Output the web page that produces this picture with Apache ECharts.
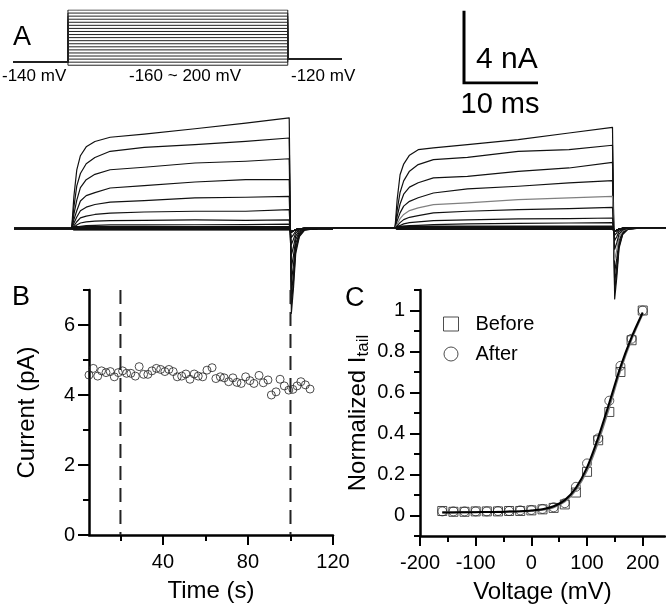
<!DOCTYPE html>
<html>
<head>
<meta charset="utf-8">
<script src="https://cdn.jsdelivr.net/npm/echarts@6/dist/echarts.min.js"></script>
<style>
  html, body { margin: 0; padding: 0; background: #fff; }
  #main { width: 666px; height: 607px; }
</style>
</head>
<body>
<div id="main"></div>
<script>
// ---- panel A: voltage protocol ----
var protoVolts = [-160, -140, -120, -100, -80, -60, -40, -20, 0, 20, 40, 60, 80, 100, 120, 140, 160, 180, 200];
var holdVolt = -140;
var tailVolt = -120;

// ---- panel A: current traces (nA vs ms) ----
var stepTimes = [0.3, 0.7, 1.2, 2, 3.2, 5.3, 10, 17, 24, 30];
var tailTimes = [30.3, 30.6, 30.9, 31.4, 32.1, 34];

var leftStep = [
  [1.8, 3.3, 4.1, 4.6, 4.9, 5.14, 5.32, 5.62, 5.94, 6.23],
  [1.2, 2.4, 3.1, 3.65, 4.0, 4.35, 4.57, 4.72, 4.91, 5.10],
  [0.8, 1.6, 2.3, 2.75, 3.05, 3.31, 3.45, 3.69, 3.79, 3.93],
  [0.5, 1.0, 1.55, 1.85, 2.02, 2.28, 2.41, 2.62, 2.75, 2.75],
  [0.3, 0.65, 1.0, 1.2, 1.35, 1.49, 1.57, 1.72, 1.76, 1.81],
  [0.15, 0.38, 0.6, 0.7, 0.79, 0.87, 0.93, 0.97, 0.97, 1.06],
  [0.07, 0.2, 0.31, 0.37, 0.41, 0.44, 0.46, 0.48, 0.46, 0.48],
  [0.03, 0.08, 0.12, 0.16, 0.18, 0.20, 0.20, 0.21, 0.22, 0.25]
];
var leftTail = [
  [-4.78, -3.3, -1.4, -0.46, -0.1, 0],
  [-4.3, -2.9, -1.2, -0.4, -0.08, 0],
  [-3.7, -2.5, -1.05, -0.35, -0.07, 0],
  [-3.0, -2.0, -0.85, -0.28, -0.06, 0],
  [-2.2, -1.5, -0.62, -0.2, -0.04, 0],
  [-1.5, -1.0, -0.42, -0.14, -0.03, 0],
  [-0.9, -0.6, -0.25, -0.08, -0.02, 0],
  [-0.5, -0.34, -0.14, -0.05, -0.01, 0]
];
var rightStep = [
  [1.6, 3.0, 3.6, 4.1, 4.41, 4.51, 4.69, 4.98, 5.35, 5.67],
  [1.0, 2.0, 2.65, 3.2, 3.57, 3.85, 3.98, 4.32, 4.41, 4.66],
  [0.65, 1.35, 1.9, 2.3, 2.55, 2.82, 2.91, 3.19, 3.38, 3.70],
  [0.4, 0.85, 1.23, 1.5, 1.7, 1.97, 2.20, 2.35, 2.54, 2.67],
  [0.22, 0.52, 0.76, 0.98, 1.13, 1.31, 1.41, 1.60, 1.69, 1.78],
  [0.12, 0.3, 0.47, 0.6, 0.69, 0.85, 0.94, 1.03, 1.09, 1.16],
  [0.05, 0.14, 0.23, 0.3, 0.34, 0.41, 0.45, 0.51, 0.53, 0.56],
  [0.02, 0.05, 0.09, 0.13, 0.15, 0.19, 0.23, 0.26, 0.28, 0.30]
];
var rightTail = [
  [-4.0, -2.75, -1.15, -0.38, -0.08, 0],
  [-3.6, -2.45, -1.03, -0.34, -0.07, 0],
  [-3.1, -2.1, -0.9, -0.3, -0.06, 0],
  [-2.5, -1.7, -0.72, -0.24, -0.05, 0],
  [-1.8, -1.22, -0.52, -0.17, -0.03, 0],
  [-1.2, -0.82, -0.35, -0.11, -0.02, 0],
  [-0.7, -0.48, -0.2, -0.07, -0.01, 0],
  [-0.4, -0.27, -0.11, -0.04, -0.01, 0]
];
var rightGrayTrace = 4; // the grey sweep on the right
// sweeps from -160 to 40 mV sit on the baseline
var smallLevels = [0.1, 0.07, 0.05, 0.03, 0.02, 0, -0.02, -0.04, -0.05, -0.06, -0.08];
var smallTail = [-0.2, -0.13, -0.06, -0.02, 0, 0];

// ---- panel B ----
var bTime = [5.2, 7.2, 9.3, 11.1, 13.2, 15.2, 17.1, 19.0, 21.0, 22.9, 24.9, 27.0, 28.8, 30.9, 32.9, 34.8, 36.9, 38.9, 40.9, 42.8,
  44.8, 46.7, 48.8, 50.8, 52.7, 54.7, 56.6, 58.7, 60.7, 63.1, 64.9, 67.0, 68.8, 70.9, 72.9, 74.8, 76.8, 78.9, 80.9, 82.8,
  85.2, 87.2, 89.4, 91.0, 93.2, 95.1, 97.1, 99.2, 101.1, 103.1, 104.9, 107.0, 109.2];
var bCurrent = [4.57, 4.76, 4.54, 4.69, 4.64, 4.67, 4.52, 4.64, 4.69, 4.62, 4.62, 4.54, 4.81, 4.59, 4.59, 4.69, 4.76, 4.73, 4.67, 4.73,
  4.67, 4.52, 4.54, 4.60, 4.45, 4.60, 4.54, 4.52, 4.71, 4.78, 4.47, 4.52, 4.49, 4.38, 4.49, 4.36, 4.33, 4.52, 4.41, 4.33,
  4.56, 4.35, 4.43, 4.00, 4.09, 4.45, 4.26, 4.14, 4.16, 4.26, 4.38, 4.29, 4.17];
var bMarkers = [20, 100];

// ---- panel C ----
var cVolt = [-160, -140, -120, -100, -80, -60, -40, -20, 0, 20, 40, 60, 80, 100, 120, 140, 160, 180, 200];
var cBefore = [0.022, 0.018, 0.018, 0.02, 0.02, 0.02, 0.022, 0.022, 0.025, 0.03, 0.037, 0.054, 0.112, 0.213, 0.367, 0.505, 0.70, 0.855, 1.0];
var cAfter = [0.02, 0.02, 0.02, 0.02, 0.02, 0.022, 0.022, 0.025, 0.027, 0.032, 0.04, 0.06, 0.14, 0.254, 0.376, 0.56, 0.73, 0.862, 1.0];
var fitBefore = [0.016, 0.016, 0.016, 0.017, 0.017, 0.018, 0.019, 0.021, 0.023, 0.028, 0.04, 0.068, 0.125, 0.22, 0.36, 0.53, 0.71, 0.86, 0.985];
var fitAfter = [0.015, 0.015, 0.016, 0.016, 0.017, 0.017, 0.019, 0.021, 0.024, 0.03, 0.045, 0.075, 0.135, 0.235, 0.38, 0.55, 0.725, 0.87, 0.99];

var FONT = "'Liberation Sans', Arial, sans-serif";

function pairs(xs, ys) {
  return xs.map(function (x, i) { return [x, ys[i]]; });
}

function traceData(step, tail, tMin, tMax) {
  return [[tMin, 0], [0, 0]].concat(pairs(stepTimes, step), pairs(tailTimes, tail), [[tMax, 0]]);
}

function flatStep(level) {
  return stepTimes.map(function () { return level; });
}

function traceSeries(grid, steps, tails, tMin, tMax, grayIdx) {
  var out = [];
  smallLevels.forEach(function (lv) {
    out.push({
      type: 'line', xAxisIndex: grid, yAxisIndex: grid, symbol: 'none', silent: true,
      data: traceData(flatStep(lv), smallTail, tMin, tMax),
      lineStyle: { color: '#111', width: 1.3 }
    });
  });
  steps.forEach(function (s, i) {
    out.push({
      type: 'line', xAxisIndex: grid, yAxisIndex: grid, symbol: 'none', silent: true,
      data: traceData(s, tails[i], tMin, tMax),
      lineStyle: { color: i === grayIdx ? '#808080' : '#111', width: 1.2, join: 'round' }
    });
  });
  return out;
}

var protoSeries = protoVolts.map(function (v) {
  return {
    type: 'line', xAxisIndex: 0, yAxisIndex: 0, symbol: 'none', silent: true,
    data: [[-7.5, holdVolt], [0, holdVolt], [0, v], [30, v], [30, tailVolt], [37.4, tailVolt]],
    lineStyle: { color: '#222', width: 1 }
  };
});

function hiddenAxis(grid, min, max) {
  return { type: 'value', gridIndex: grid, min: min, max: max, show: false };
}

var axisLine = { show: true, onZero: false, lineStyle: { color: '#000', width: 2.5 } };

var chart = echarts.init(document.getElementById('main'));
chart.setOption({
  animation: false,
  backgroundColor: '#fff',
  grid: [
    { left: 13, top: 10, width: 329, height: 56 },     // protocol
    { left: 14, top: 100, width: 319, height: 230 },   // left traces
    { left: 333, top: 100, width: 333, height: 230 },  // right traces
    { left: 464, top: 12, width: 72.5, height: 71 },   // scale bar
    { left: 89, top: 290, width: 244, height: 245 },   // B
    { left: 420, top: 290, width: 245, height: 246 }   // C
  ],
  xAxis: [
    hiddenAxis(0, -7.5, 37.4),
    hiddenAxis(1, -7.96, 36.04),
    hiddenAxis(2, -8.55, 37.38),
    hiddenAxis(3, 0, 10),
    {
      type: 'value', gridIndex: 4, min: 5.2, max: 120, position: 'bottom',
      name: 'Time (s)', nameLocation: 'middle', nameGap: 44,
      nameTextStyle: { color: '#000', fontSize: 24, fontFamily: FONT },
      axisLine: axisLine,
      axisTick: { show: true, length: 10, lineStyle: { color: '#000', width: 2 }, customValues: [40, 80, 120] },
      axisLabel: { show: true, margin: 17, customValues: [40, 80, 120], color: '#000', fontSize: 20, fontFamily: FONT },
      splitLine: { show: false }
    },
    {
      type: 'value', gridIndex: 4, min: 5.2, max: 120, position: 'bottom',
      axisLine: { show: false, onZero: false },
      axisTick: { show: true, length: 6, lineStyle: { color: '#000', width: 2 }, customValues: [20, 60, 100] },
      axisLabel: { show: false }, splitLine: { show: false }
    },
    {
      type: 'value', gridIndex: 5, min: -200, max: 240, position: 'bottom',
      name: 'Voltage (mV)', nameLocation: 'middle', nameGap: 44,
      nameTextStyle: { color: '#000', fontSize: 24, fontFamily: FONT },
      axisLine: axisLine,
      axisTick: { show: true, length: 10, lineStyle: { color: '#000', width: 2 }, customValues: [-200, -100, 0, 100, 200] },
      axisLabel: { show: true, margin: 17, customValues: [-200, -100, 0, 100, 200], color: '#000', fontSize: 20, fontFamily: FONT },
      splitLine: { show: false }
    },
    {
      type: 'value', gridIndex: 5, min: -200, max: 240, position: 'bottom',
      axisLine: { show: false, onZero: false },
      axisTick: { show: true, length: 6, lineStyle: { color: '#000', width: 2 }, customValues: [-150, -50, 50, 150] },
      axisLabel: { show: false }, splitLine: { show: false }
    }
  ],
  yAxis: [
    hiddenAxis(0, -165, 200),
    hiddenAxis(1, -5.72, 7.24),
    hiddenAxis(2, -5.75, 7.21),
    hiddenAxis(3, 0, 4),
    {
      type: 'value', gridIndex: 4, min: 0, max: 7, position: 'left',
      name: 'Current (pA)', nameLocation: 'middle', nameGap: 50,
      nameTextStyle: { color: '#000', fontSize: 24, fontFamily: FONT },
      axisLine: axisLine,
      axisTick: { show: true, length: 11, lineStyle: { color: '#000', width: 2 }, customValues: [0, 2, 4, 6] },
      axisLabel: { show: true, margin: 14, customValues: [0, 2, 4, 6], color: '#000', fontSize: 20, fontFamily: FONT },
      splitLine: { show: false }
    },
    {
      type: 'value', gridIndex: 4, min: 0, max: 7, position: 'left',
      axisLine: { show: false, onZero: false },
      axisTick: { show: true, length: 6, lineStyle: { color: '#000', width: 2 }, customValues: [1, 3, 5, 7] },
      axisLabel: { show: false }, splitLine: { show: false }
    },
    {
      type: 'value', gridIndex: 5, min: -0.1, max: 1.1, position: 'left',
      name: '{a|Normalized I}{s|tail}', nameLocation: 'middle', nameGap: 48,
      nameTextStyle: {
        color: '#000', fontFamily: FONT,
        rich: {
          a: { fontSize: 24, fontFamily: FONT, color: '#000' },
          s: { fontSize: 17, fontFamily: FONT, color: '#000', padding: [10, 0, 0, 0] }
        }
      },
      axisLine: axisLine,
      axisTick: { show: true, length: 10, lineStyle: { color: '#000', width: 2 }, customValues: [0, 0.2, 0.4, 0.6, 0.8, 1] },
      axisLabel: { show: true, margin: 15, customValues: [0, 0.2, 0.4, 0.6, 0.8, 1], color: '#000', fontSize: 20, fontFamily: FONT },
      splitLine: { show: false }
    },
    {
      type: 'value', gridIndex: 5, min: -0.1, max: 1.1, position: 'left',
      axisLine: { show: false, onZero: false },
      axisTick: { show: true, length: 6, lineStyle: { color: '#000', width: 2 }, customValues: [-0.1, 0.1, 0.3, 0.5, 0.7, 0.9, 1.1] },
      axisLabel: { show: false }, splitLine: { show: false }
    }
  ],
  legend: {
    orient: 'vertical', left: 438, top: 309,
    itemWidth: 15, itemHeight: 14, itemGap: 10,
    selectedMode: false,
    textStyle: { color: '#000', fontSize: 20, fontFamily: FONT, padding: [0, 0, 0, 12] },
    data: [
      { name: 'Before', icon: 'rect', itemStyle: { color: '#fff', borderColor: '#222', borderWidth: 1 } },
      { name: 'After', icon: 'circle', itemStyle: { color: '#fff', borderColor: '#222', borderWidth: 1 } }
    ]
  },
  graphic: [
    { type: 'text', x: 13, y: 38, style: { text: 'A', fontSize: 27, fontFamily: FONT, fill: '#000', textVerticalAlign: 'middle', verticalAlign: 'middle' } },
    { type: 'text', x: 12, y: 298, style: { text: 'B', fontSize: 27, fontFamily: FONT, fill: '#000', textVerticalAlign: 'middle', verticalAlign: 'middle' } },
    { type: 'text', x: 345, y: 299, style: { text: 'C', fontSize: 27, fontFamily: FONT, fill: '#000', textVerticalAlign: 'middle', verticalAlign: 'middle' } },
    { type: 'text', x: 2, y: 76, style: { text: '-140 mV', fontSize: 17, fontFamily: FONT, fill: '#000', textVerticalAlign: 'middle', verticalAlign: 'middle' } },
    { type: 'text', x: 185, y: 76, style: { text: '-160 ~ 200 mV', fontSize: 17, fontFamily: FONT, fill: '#000', textAlign: 'center', align: 'center', textVerticalAlign: 'middle', verticalAlign: 'middle' } },
    { type: 'text', x: 291, y: 76, style: { text: '-120 mV', fontSize: 17, fontFamily: FONT, fill: '#000', textVerticalAlign: 'middle', verticalAlign: 'middle' } },
    { type: 'text', x: 476, y: 60, style: { text: '4 nA', fontSize: 30, fontFamily: FONT, fill: '#000', textVerticalAlign: 'middle', verticalAlign: 'middle' } },
    { type: 'text', x: 500, y: 105, style: { text: '10 ms', fontSize: 29, fontFamily: FONT, fill: '#000', textAlign: 'center', align: 'center', textVerticalAlign: 'middle', verticalAlign: 'middle' } }
  ],
  series: [].concat(
    protoSeries,
    traceSeries(1, leftStep, leftTail, -7.96, 36.04, -1),
    traceSeries(2, rightStep, rightTail, -8.55, 37.38, rightGrayTrace),
    [{
      type: 'line', xAxisIndex: 3, yAxisIndex: 3, symbol: 'none', silent: true,
      data: [[0, 4], [0, 0], [10, 0]],
      lineStyle: { color: '#000', width: 3, cap: 'square', join: 'miter' }
    }],
    bMarkers.map(function (t) {
      return {
        type: 'line', xAxisIndex: 4, yAxisIndex: 4, symbol: 'none', silent: true,
        data: [[t, 7], [t, 0]],
        lineStyle: { color: '#222', width: 2, type: [14, 8] }
      };
    }),
    [{
      type: 'scatter', xAxisIndex: 4, yAxisIndex: 4, symbol: 'circle', symbolSize: 8,
      data: pairs(bTime, bCurrent),
      itemStyle: { color: 'rgba(255,255,255,0)', borderColor: '#222', borderWidth: 1 }
    }],
    [
      {
        name: 'After', type: 'scatter', xAxisIndex: 6, yAxisIndex: 6, symbol: 'circle', symbolSize: 9,
        data: pairs(cVolt, cAfter),
        itemStyle: { color: '#fff', borderColor: '#333', borderWidth: 1 }
      },
      {
        name: 'Before', type: 'scatter', xAxisIndex: 6, yAxisIndex: 6, symbol: 'rect', symbolSize: 9,
        data: pairs(cVolt, cBefore),
        itemStyle: { color: 'rgba(255,255,255,0)', borderColor: '#222', borderWidth: 1 }
      },
      {
        type: 'line', xAxisIndex: 6, yAxisIndex: 6, symbol: 'none', silent: true, smooth: 0.3,
        data: pairs(cVolt, fitBefore), lineStyle: { color: '#777', width: 2 }
      },
      {
        type: 'line', xAxisIndex: 6, yAxisIndex: 6, symbol: 'none', silent: true, smooth: 0.3,
        data: pairs(cVolt, fitAfter), lineStyle: { color: '#000', width: 2 }
      }
    ]
  )
});
</script>
</body>
</html>
